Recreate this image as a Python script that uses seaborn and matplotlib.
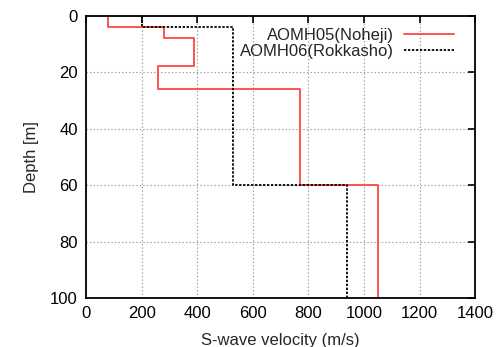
import matplotlib
matplotlib.use("Agg")
import matplotlib.pyplot as plt
import seaborn as sns
import pandas as pd

# Layer data (depth tops/bottoms in m, Vs in m/s)
noheji_top = [0, 4, 8, 18, 26, 60]
noheji_bot = [4, 8, 18, 26, 60, 100]
noheji_vs = [80, 280, 390, 260, 770, 1050]

rokka_top = [0, 4, 60]
rokka_bot = [4, 60, 100]
rokka_vs = [200, 530, 940]

labels = ["AOMH05(Noheji)", "AOMH06(Rokkasho)"]
xticks = [0, 200, 400, 600, 800, 1000, 1200, 1400]
yticks = [0, 20, 40, 60, 80, 100]


def profile(tops, bots, vs, name):
    rows = []
    for t, b, v in zip(tops, bots, vs):
        rows.append((v, t, name))
        rows.append((v, b, name))
    return rows

rows = profile(noheji_top, noheji_bot, noheji_vs, labels[0]) + \
       profile(rokka_top, rokka_bot, rokka_vs, labels[1])
df = pd.DataFrame(rows, columns=["vs", "depth", "site"])

sns.set_theme(style="white")
plt.rcParams['font.family'] = ['Liberation Sans', 'DejaVu Sans']

fig = plt.figure(figsize=(4.97, 3.47), dpi=100)
ax = fig.add_axes([0.173, 0.141, 0.783, 0.814])

palette = {labels[0]: "#ff4444", labels[1]: "#000000"}
sns.lineplot(data=df, x="vs", y="depth", hue="site", style="site",
             palette=palette, sort=False, estimator=None, units="site",
             dashes={labels[0]: "", labels[1]: (1.3, 0.9)},
             linewidth=1.3, ax=ax, legend=True)

ax.set_xlim(0, 1400)
ax.set_ylim(100, 0)
ax.set_xticks(xticks)
ax.set_yticks(yticks)
ax.tick_params(direction="in", length=5, width=1.2, top=True, right=True,
               labelsize=12, colors="black", pad=6)
ax.grid(True, color="#999999", linestyle=(0, (1.2, 2.0)), linewidth=0.8)
for s in ax.spines.values():
    s.set_color("black")
    s.set_linewidth(1.3)
ax.set_xlabel("S-wave velocity (m/s)", fontsize=12, labelpad=8)
ax.set_ylabel("Depth [m]", fontsize=12, labelpad=8)

h, l = ax.get_legend_handles_labels()
leg = ax.legend(h, l, loc="upper right", bbox_to_anchor=(0.985, 1.01),
                frameon=False, markerfirst=False, fontsize=12,
                handlelength=3.0, handletextpad=0.6, labelspacing=0.05)

fig.savefig("out.png", dpi=100)
